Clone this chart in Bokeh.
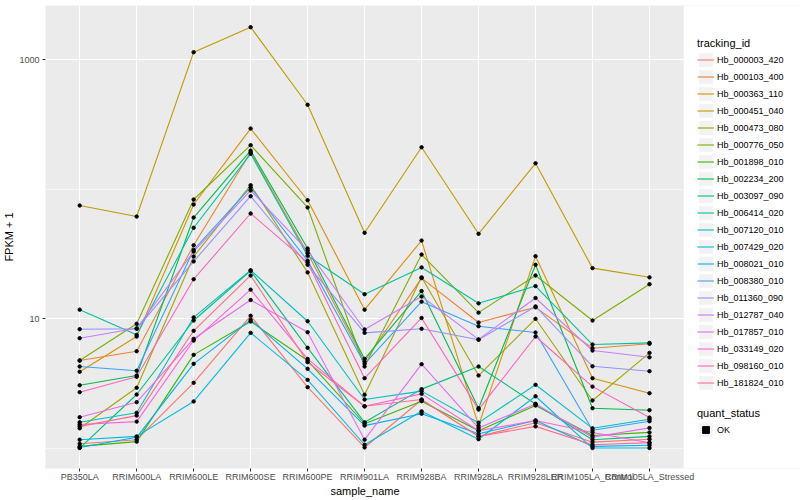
from bokeh.plotting import figure
from bokeh.models import (Range1d, FixedTicker, Legend, LegendItem, NumeralTickFormatter,
                          BoxAnnotation, Title)
from bokeh.embed import file_html
from bokeh.resources import INLINE

samples = ["PB350LA", "RRIM600LA", "RRIM600LE", "RRIM600SE", "RRIM600PE", "RRIM901LA",
           "RRIM928BA", "RRIM928LA", "RRIM928LER", "RRIM105LA_Control", "RRIM105LA_Stressed"]

tracking_ids = ["Hb_000003_420", "Hb_000103_400", "Hb_000363_110", "Hb_000451_040",
                "Hb_000473_080", "Hb_000776_050", "Hb_001898_010", "Hb_002234_200",
                "Hb_003097_090", "Hb_006414_020", "Hb_007120_010", "Hb_007429_020",
                "Hb_008021_010", "Hb_008380_010", "Hb_011360_090", "Hb_012787_040",
                "Hb_017857_010", "Hb_033149_020", "Hb_098160_010", "Hb_181824_010"]

palette = ["#F8766D", "#EA8331", "#D89000", "#C09B00", "#A3A500", "#7CAE00", "#39B600",
           "#00BB4E", "#00BF7D", "#00C1A3", "#00BFC4", "#00BAE0", "#00B0F6", "#35A2FF",
           "#9590FF", "#C77CFF", "#E76BF3", "#FA62DB", "#FF62BC", "#FF6C91"]

# FPKM + 1 per sample (order of `samples`)
hb_000003_420 = [1.08, 1.16, 3.19, 10.5, 2.95, 1.01, 2.36, 1.23, 1.57, 1.11, 1.17]
hb_000103_400 = [4.74, 5.59, 36.8, 192, 31.9, 4.66, 20.5, 9.31, 12.2, 5.9, 6.38]
hb_000363_110 = [3.88, 7.26, 75.9, 293, 81.9, 11.7, 40.0, 1.49, 30.3, 3.46, 2.65]
hb_000451_040 = [74.6, 61.3, 1139, 1776, 447, 45.9, 210, 45.1, 158, 24.5, 20.8]
hb_000473_080 = [1.42, 2.92, 30.1, 107, 22.7, 2.58, 20.8, 3.63, 9.95, 2.33, 5.43]
hb_000776_050 = [4.74, 9.10, 83.0, 218, 72.0, 4.26, 31.2, 11.1, 21.5, 9.65, 18.4]
hb_001898_010 = [1.03, 1.12, 5.24, 9.48, 4.74, 1.54, 2.30, 1.36, 2.13, 1.25, 1.32]
hb_002234_200 = [3.05, 3.63, 60.2, 198, 34.7, 4.88, 16.3, 2.03, 26.0, 2.03, 1.96]
hb_003097_090 = [1.00, 2.59, 9.65, 23.3, 5.94, 1.58, 2.85, 4.26, 2.19, 1.16, 1.23]
hb_006414_020 = [11.7, 7.48, 50.2, 187, 30.5, 15.4, 24.8, 13.1, 17.8, 6.30, 6.49]
hb_007120_010 = [1.58, 1.87, 10.2, 23.6, 9.53, 2.37, 2.75, 1.57, 3.08, 1.42, 1.67]
hb_007429_020 = [1.16, 1.23, 2.29, 7.75, 3.36, 1.06, 1.92, 1.17, 2.51, 1.00, 1.00]
hb_008021_010 = [1.01, 1.21, 4.47, 9.77, 4.09, 1.49, 1.84, 1.29, 1.63, 1.03, 1.05]
hb_008380_010 = [4.26, 3.95, 33.9, 103, 28.0, 4.47, 13.5, 8.72, 7.80, 1.37, 1.61]
hb_011360_090 = [8.27, 8.33, 27.6, 88.0, 26.0, 7.75, 8.33, 6.85, 12.4, 4.28, 3.92]
hb_012787_040 = [7.05, 8.40, 32.9, 97.4, 33.5, 8.23, 14.8, 6.90, 14.4, 5.66, 5.02]
hb_017857_010 = [1.73, 2.26, 6.97, 13.9, 7.84, 1.16, 4.44, 1.43, 2.19, 1.21, 1.43]
hb_033149_020 = [1.52, 1.60, 6.76, 16.7, 4.88, 2.10, 2.62, 1.36, 1.63, 1.32, 1.10]
hb_098160_010 = [2.70, 3.55, 20.1, 64.7, 27.1, 3.46, 10.1, 1.98, 7.26, 2.98, 1.72]
hb_181824_010 = [1.47, 1.78, 8.04, 21.5, 4.60, 2.10, 2.37, 1.23, 1.47, 1.06, 1.10]

series = [hb_000003_420, hb_000103_400, hb_000363_110, hb_000451_040, hb_000473_080,
          hb_000776_050, hb_001898_010, hb_002234_200, hb_003097_090, hb_006414_020,
          hb_007120_010, hb_007429_020, hb_008021_010, hb_008380_010, hb_011360_090,
          hb_012787_040, hb_017857_010, hb_033149_020, hb_098160_010, hb_181824_010]

FONT = "Liberation Sans"
X_END = 10.6  # right edge of the grey panel (category units)

p = figure(width=800, height=500, y_axis_type="log",
           x_range=Range1d(-0.6, 12.65), y_range=Range1d(0.695, 2612),
           output_backend="svg", toolbar_location=None,
           min_border_left=45, min_border_right=0, min_border_top=5, min_border_bottom=32)
p.background_fill_color = "#EBEBEB"
p.border_fill_color = "white"
p.outline_line_color = None

# white area to the right of the panel that hosts the legends
p.add_layout(BoxAnnotation(left=X_END, fill_color="white", fill_alpha=1.0,
                           line_color=None, level="underlay"))

xs = list(range(len(samples)))

line_renderers = []
for vals, col in zip(series, palette):
    r = p.line(xs, vals, line_color=col, line_width=1.1)
    line_renderers.append(r)

px, py = [], []
for vals in series:
    px.extend(xs)
    py.extend(vals)
pts = p.scatter(px, py, size=3.4, marker="circle", color="black")

# legend helpers (nothing drawn in the plot area)
bg = p.rect(x=-100, y=1, width=0.1, height=0.1, fill_color="#F2F2F2", line_color=None)
ok_key = p.scatter(x=-100, y=1, marker="square", size=4, color="black")

# axes
p.xaxis.ticker = FixedTicker(ticks=xs)
p.xaxis.bounds = (-0.6, X_END)
p.xaxis.major_label_overrides = {i: s for i, s in enumerate(samples)}
p.yaxis.ticker = FixedTicker(ticks=[10, 1000], minor_ticks=[1, 100])
p.yaxis.formatter = NumeralTickFormatter(format="0")
p.yaxis.axis_label = "FPKM + 1"
for ax in (p.xaxis[0], p.yaxis[0]):
    ax.axis_line_color = None
    ax.major_tick_line_color = "#333333"
    ax.major_tick_out = 3
    ax.major_tick_in = 0
    ax.minor_tick_line_color = None
    ax.major_label_text_font = FONT
    ax.major_label_text_font_size = "9px"
    ax.major_label_text_color = "#4D4D4D"
    ax.major_label_standoff = 2
    ax.axis_label_text_font = FONT
    ax.axis_label_text_font_size = "11px"
    ax.axis_label_text_font_style = "normal"
    ax.axis_label_text_color = "black"
    ax.axis_label_standoff = 1
p.xaxis.major_label_standoff = 0

# x axis title, centred under the grey panel (centre at x = 364 px)
xtitle = Title(text="sample_name", align="left", offset=285, standoff=0,
               vertical_align="top",
               text_font=FONT, text_font_size="11px", text_font_style="normal",
               text_color="black")
p.add_layout(xtitle, "below")

p.xgrid.grid_line_color = "white"
p.xgrid.grid_line_width = 1.1
p.ygrid.grid_line_color = "white"
p.ygrid.grid_line_width = 1.1
p.ygrid.minor_grid_line_color = "white"
p.ygrid.minor_grid_line_width = 0.55


def style_legend(lg):
    lg.padding = 0
    lg.margin = 0
    lg.spacing = 0
    lg.glyph_width = 17
    lg.glyph_height = 17
    lg.label_height = 17
    lg.label_standoff = 3
    lg.border_line_color = None
    lg.background_fill_alpha = 0
    lg.label_text_font = FONT
    lg.label_text_font_size = "9px"
    lg.label_text_color = "black"
    lg.title_text_font = FONT
    lg.title_text_font_size = "11px"
    lg.title_text_font_style = "normal"
    lg.title_text_color = "black"
    lg.title_standoff = 2


items = [LegendItem(label=tid, renderers=[bg, r]) for tid, r in zip(tracking_ids, line_renderers)]
leg1 = Legend(items=items, title="tracking_id", location=(652, 77))
style_legend(leg1)
p.add_layout(leg1, "center")

leg2 = Legend(items=[LegendItem(label="OK", renderers=[bg, ok_key])], title="quant_status",
              location=(652, 30))
style_legend(leg2)
p.add_layout(leg2, "center")

open("out.html", "w").write(file_html(p, INLINE))
